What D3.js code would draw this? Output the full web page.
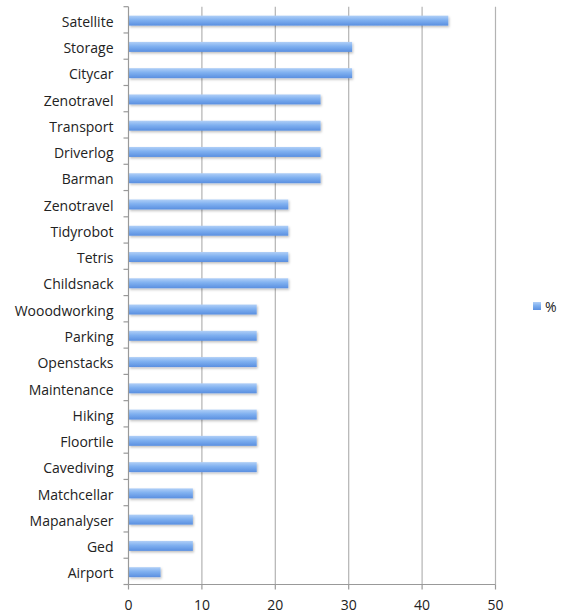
<!DOCTYPE html>
<html>
<head>
<meta charset="utf-8">
<script src="https://cdn.jsdelivr.net/npm/d3@7"></script>
<style>
  body { margin: 0; background: #fff; }
  text { font-family: "Open Sans", "DejaVu Sans", sans-serif; fill: #222; }
</style>
</head>
<body>
<svg id="chart" width="566" height="614"></svg>
<script>
// categories top to bottom, values in %
const categories = ["Satellite", "Storage", "Citycar", "Zenotravel", "Transport", "Driverlog", "Barman",
  "Zenotravel", "Tidyrobot", "Tetris", "Childsnack", "Wooodworking", "Parking", "Openstacks",
  "Maintenance", "Hiking", "Floortile", "Cavediving", "Matchcellar", "Mapanalyser", "Ged", "Airport"];
const percent = [43.5, 30.4, 30.4, 26.1, 26.1, 26.1, 26.1, 21.7, 21.7, 21.7, 21.7,
  17.4, 17.4, 17.4, 17.4, 17.4, 17.4, 17.4, 8.7, 8.7, 8.7, 4.3];
const xTicks = [0, 10, 20, 30, 40, 50];
const seriesName = "%";

const svg = d3.select('#chart');
const plotLeft = 128.5, plotRight = 495.5, plotTop = 6.7, plotBottom = 584.5;

const x = d3.scaleLinear().domain([0, 50]).range([plotLeft, plotRight]);
const y = d3.scaleBand().domain(d3.range(categories.length)).range([plotTop, plotBottom]).paddingInner(0.62).paddingOuter(0.31);

// bar gradient, like the old Excel look
const defs = svg.append('defs');
const grad = defs.append('linearGradient').attr('id', 'barGrad').attr('x1', 0).attr('y1', 0).attr('x2', 0).attr('y2', 1);
grad.append('stop').attr('offset', '0%').attr('stop-color', '#b0cff7');
grad.append('stop').attr('offset', '45%').attr('stop-color', '#7fb0f0');
grad.append('stop').attr('offset', '100%').attr('stop-color', '#5a8fe0');
const shadow = defs.append('filter').attr('id', 'shadow').attr('x', '-5%').attr('y', '-30%').attr('width', '115%').attr('height', '180%');
shadow.append('feDropShadow').attr('dx', 1).attr('dy', 1.5).attr('stdDeviation', 1).attr('flood-color', '#000').attr('flood-opacity', 0.25);

// vertical gridlines
svg.append('g')
  .selectAll('line')
  .data(xTicks.slice(1))
  .enter().append('line')
  .attr('x1', d => x(d)).attr('x2', d => x(d))
  .attr('y1', plotTop).attr('y2', plotBottom)
  .attr('stroke', '#b3b3b3').attr('stroke-width', 1.2);

// bars
svg.append('g')
  .selectAll('rect')
  .data(percent)
  .enter().append('rect')
  .attr('x', x(0) + 0.5)
  .attr('y', (d, i) => y(i) + 0.8)
  .attr('width', d => x(d) - x(0))
  .attr('height', y.bandwidth())
  .attr('fill', 'url(#barGrad)')
  .attr('filter', 'url(#shadow)');

// y axis line and ticks between categories
const axisColor = '#999';
svg.append('line')
  .attr('x1', plotLeft).attr('x2', plotLeft).attr('y1', plotTop).attr('y2', plotBottom)
  .attr('stroke', axisColor).attr('stroke-width', 1.2);
const step = y.step();
svg.append('g')
  .selectAll('line')
  .data(d3.range(categories.length + 1))
  .enter().append('line')
  .attr('x1', plotLeft - 5).attr('x2', plotLeft)
  .attr('y1', i => plotTop + i * step).attr('y2', i => plotTop + i * step)
  .attr('stroke', axisColor).attr('stroke-width', 1.2);

// category labels
svg.append('g')
  .selectAll('text')
  .data(categories)
  .enter().append('text')
  .attr('x', plotLeft - 15)
  .attr('y', (d, i) => y(i) + y.bandwidth() / 2)
  .attr('dy', '0.5em')
  .attr('text-anchor', 'end')
  .style('font-size', '14px')
  .text(d => d);

// x axis
svg.append('line')
  .attr('x1', plotLeft).attr('x2', plotRight).attr('y1', plotBottom).attr('y2', plotBottom)
  .attr('stroke', axisColor).attr('stroke-width', 1.2);
svg.append('g')
  .selectAll('line')
  .data(xTicks)
  .enter().append('line')
  .attr('x1', d => x(d)).attr('x2', d => x(d))
  .attr('y1', plotBottom).attr('y2', plotBottom + 5)
  .attr('stroke', axisColor).attr('stroke-width', 1.2);
svg.append('g')
  .selectAll('text')
  .data(xTicks)
  .enter().append('text')
  .attr('x', d => x(d))
  .attr('y', plotBottom + 25.5)
  .attr('text-anchor', 'middle')
  .style('font-size', '14px')
  .text(d => d);

// legend
const legend = svg.append('g').attr('transform', 'translate(533,302)');
legend.append('rect').attr('width', 8).attr('height', 8).attr('fill', 'url(#barGrad)');
legend.append('text').attr('x', 12).attr('y', 4).attr('dy', '0.4em').style('font-size', '14px').text(seriesName);
</script>
</body>
</html>
